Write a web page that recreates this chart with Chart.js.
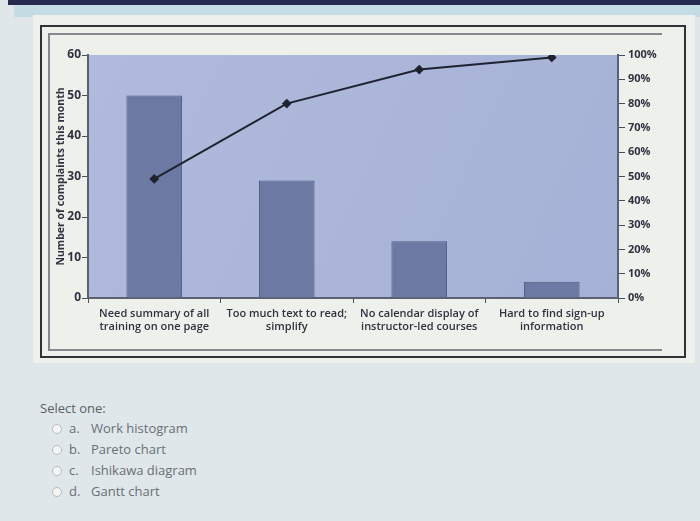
<!DOCTYPE html>
<html>
<head>
<meta charset="utf-8">
<script src="https://cdn.jsdelivr.net/npm/chart.js@4/dist/chart.umd.min.js"></script>
<style>
  html, body { margin: 0; padding: 0; }
  body {
    width: 700px; height: 521px; position: relative; overflow: hidden;
    background: #dfe7ea;
    font-family: "Open Sans", "Noto Sans", sans-serif;
  }
  #topbar { position: absolute; left: 8px; top: 0; width: 692px; height: 5px; background: #262b4d; }
  #bluestrip { position: absolute; left: 14px; top: 5px; width: 686px; height: 12px; background: #c6dce4; }
  #panel { position: absolute; left: 33px; top: 15px; width: 662px; height: 348px; background: #eef0eb; }
  #outer { position: absolute; left: 40px; top: 25px; width: 642px; height: 329px; border: 2px solid #2f3236; }
  #inner { position: absolute; left: 48px; top: 33px; width: 612px; height: 314px;
           border-top: 2px solid #85888c; border-left: 2px solid #85888c; border-bottom: 2px solid #85888c; }
  #wrap { position: absolute; left: 48px; top: 33px; width: 612px; height: 320px; }
  #quiz { position: absolute; left: 40px; top: 398px; color: #5a5f63; font-size: 13px; }
  #quiz .opt { position: relative; height: 21px; line-height: 21px; margin-left: 12px; color: #6a6f73; }
  #quiz .radio { display: inline-block; width: 8px; height: 8px; border: 1.5px solid #b7bcbf; border-radius: 50%;
                 background: #f4f6f6; vertical-align: middle; margin-right: 7px; margin-top: -2px; }
  #quiz .letter { display: inline-block; width: 22px; }
</style>
</head>
<body>
<div id="topbar"></div>
<div id="bluestrip"></div>
<div id="panel"></div>
<div id="outer"></div>
<div id="inner"></div>
<div id="wrap"><canvas id="chart" width="612" height="320"></canvas></div>
<div id="quiz">
  <div style="height:20px;line-height:20px;">Select one:</div>
  <div class="opt"><span class="radio"></span><span class="letter">a.</span>Work histogram</div>
  <div class="opt"><span class="radio"></span><span class="letter">b.</span>Pareto chart</div>
  <div class="opt"><span class="radio"></span><span class="letter">c.</span>Ishikawa diagram</div>
  <div class="opt"><span class="radio"></span><span class="letter">d.</span>Gantt chart</div>
</div>
<script>
// categories (two-line labels)
const categories = [
    ["Need summary of all", "training on one page"],
    ["Too much text to read;", "simplify"],
    ["No calendar display of", "instructor-led courses"],
    ["Hard to find sign-up", "information"]
];
// complaints per category
const complaints = [50, 29, 14, 4];
// cumulative percentage
const cumulativePct = [49, 80, 94, 99];
const countTicks = [0, 10, 20, 30, 40, 50, 60];
const pctTicks = [0, 10, 20, 30, 40, 50, 60, 70, 80, 90, 100];

// paint the plot area background
const plotBackground = {
    id: "plotBackground",
    beforeDraw(chart) {
        const { ctx, chartArea } = chart;
        ctx.save();
        const g = ctx.createLinearGradient(chartArea.left, chartArea.top, chartArea.right, chartArea.bottom);
        g.addColorStop(0, "#b0badc");
        g.addColorStop(1, "#a5b1d6");
        ctx.fillStyle = g;
        ctx.fillRect(chartArea.left, chartArea.top, chartArea.right - chartArea.left, chartArea.bottom - chartArea.top);
        ctx.restore();
    }
};

const labelFont = { family: "'Open Sans', sans-serif", size: 11, weight: "600" };

new Chart(document.getElementById("chart"), {
    type: "bar",
    data: {
        labels: categories,
        datasets: [
            {
                type: "line",
                label: "Cumulative %",
                data: cumulativePct,
                yAxisID: "yPct",
                borderColor: "#1f2330",
                backgroundColor: "#1f2330",
                borderWidth: 2,
                pointStyle: "rectRot",
                pointRadius: 3.5,
                tension: 0,
                order: 0
            },
            {
                type: "bar",
                label: "Complaints",
                data: complaints,
                yAxisID: "y",
                backgroundColor: "#6b79a3",
                borderColor: "#4d5a80",
                borderWidth: 1,
                categoryPercentage: 1,
                barPercentage: 0.42,
                order: 1
            }
        ]
    },
    options: {
        responsive: false,
        animation: false,
        layout: { padding: { top: 22, left: 4, right: 0, bottom: 5 } },
        plugins: {
            legend: { display: false },
            tooltip: { enabled: false }
        },
        scales: {
            x: {
                offset: true,
                grid: { display: true, offset: true, drawOnChartArea: false, tickLength: 5, color: "#4a4f5a" },
                border: { color: "#5a6172", width: 2 },
                ticks: { color: "#2e3340", font: labelFont, padding: 4, maxRotation: 0, autoSkip: false },
                afterFit(scale) { scale.height = 50; }
            },
            y: {
                position: "left",
                min: 0,
                max: 60,
                afterBuildTicks(scale) { scale.ticks = countTicks.map(v => ({ value: v })); },
                grid: { drawOnChartArea: false, tickLength: 6, color: "#4a4f5a" },
                border: { color: "#5a6172", width: 2 },
                ticks: { color: "#2e3340", font: { family: "'Open Sans', sans-serif", size: 12, weight: "bold" }, padding: 1 },
                title: {
                    display: true,
                    text: "Number of complaints this month",
                    color: "#2e3340",
                    font: { family: "'Open Sans', sans-serif", size: 10.5, weight: "bold" },
                    padding: { top: 3, bottom: 0 }
                },
                afterFit(scale) { scale.width = 36; }
            },
            yPct: {
                position: "right",
                min: 0,
                max: 100,
                afterBuildTicks(scale) { scale.ticks = pctTicks.map(v => ({ value: v })); },
                grid: { drawOnChartArea: false, tickLength: 7, color: "#4a4f5a" },
                border: { color: "#5a6172", width: 2 },
                ticks: {
                    color: "#2e3340",
                    font: { family: "'Open Sans', sans-serif", size: 11, weight: "bold" },
                    padding: 3,
                    callback: value => value + "%"
                },
                afterFit(scale) { scale.width = 42; }
            }
        }
    },
    plugins: [plotBackground]
});
</script>
</body>
</html>
